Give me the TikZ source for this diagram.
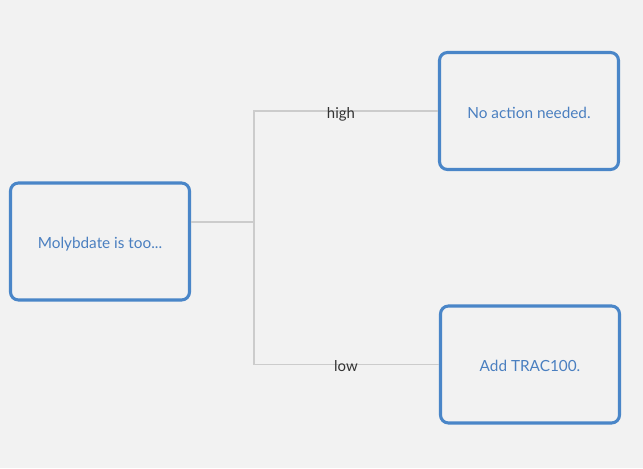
\documentclass[tikz,border=0pt]{standalone}
\usepackage{fontspec}
\setmainfont{Lato}
\definecolor{bg}{HTML}{F2F2F2}
\definecolor{boxblue}{HTML}{4A86C8}
\definecolor{txtblue}{HTML}{4A7FC0}
\definecolor{linegray}{HTML}{CCCCCC}
\definecolor{lbl}{HTML}{333333}
\begin{document}
\begin{tikzpicture}[x=0.75pt,y=-0.75pt,
  stepbox/.style={draw=boxblue,line width=2.3pt,rounded corners=6pt,fill=bg,
    minimum width=179pt*0.75,minimum height=117pt*0.75,inner sep=0pt,
    text height=10.5pt,text depth=0pt,
    text=txtblue,font=\fontsize{11.5pt}{13pt}\selectfont},
  conn/.style={draw=linegray,line width=1.1pt},
  lab/.style={text=lbl,font=\fontsize{11.2pt}{13pt}\selectfont,inner sep=1pt}]
\fill[bg] (0,0) rectangle (643,468);
\useasboundingbox (0,0) rectangle (643,468);
\node[stepbox] (b1) at (100,241.5) {Molybdate is too...};
\node[stepbox] (b2) at (529,111) {No action needed.};
\node[stepbox] (b3) at (530,364.5) {Add TRAC100.};
\coordinate (j) at (254,222);
\draw[conn] (b1.east |- j) -- (j);
\draw[conn] (j) |- (b2.west);
\draw[conn] (j) |- (b3.west);
\node[lab] (lh) at (341,114) {high};
\node[lab] (ll) at (346,366) {low};
\end{tikzpicture}
\end{document}
